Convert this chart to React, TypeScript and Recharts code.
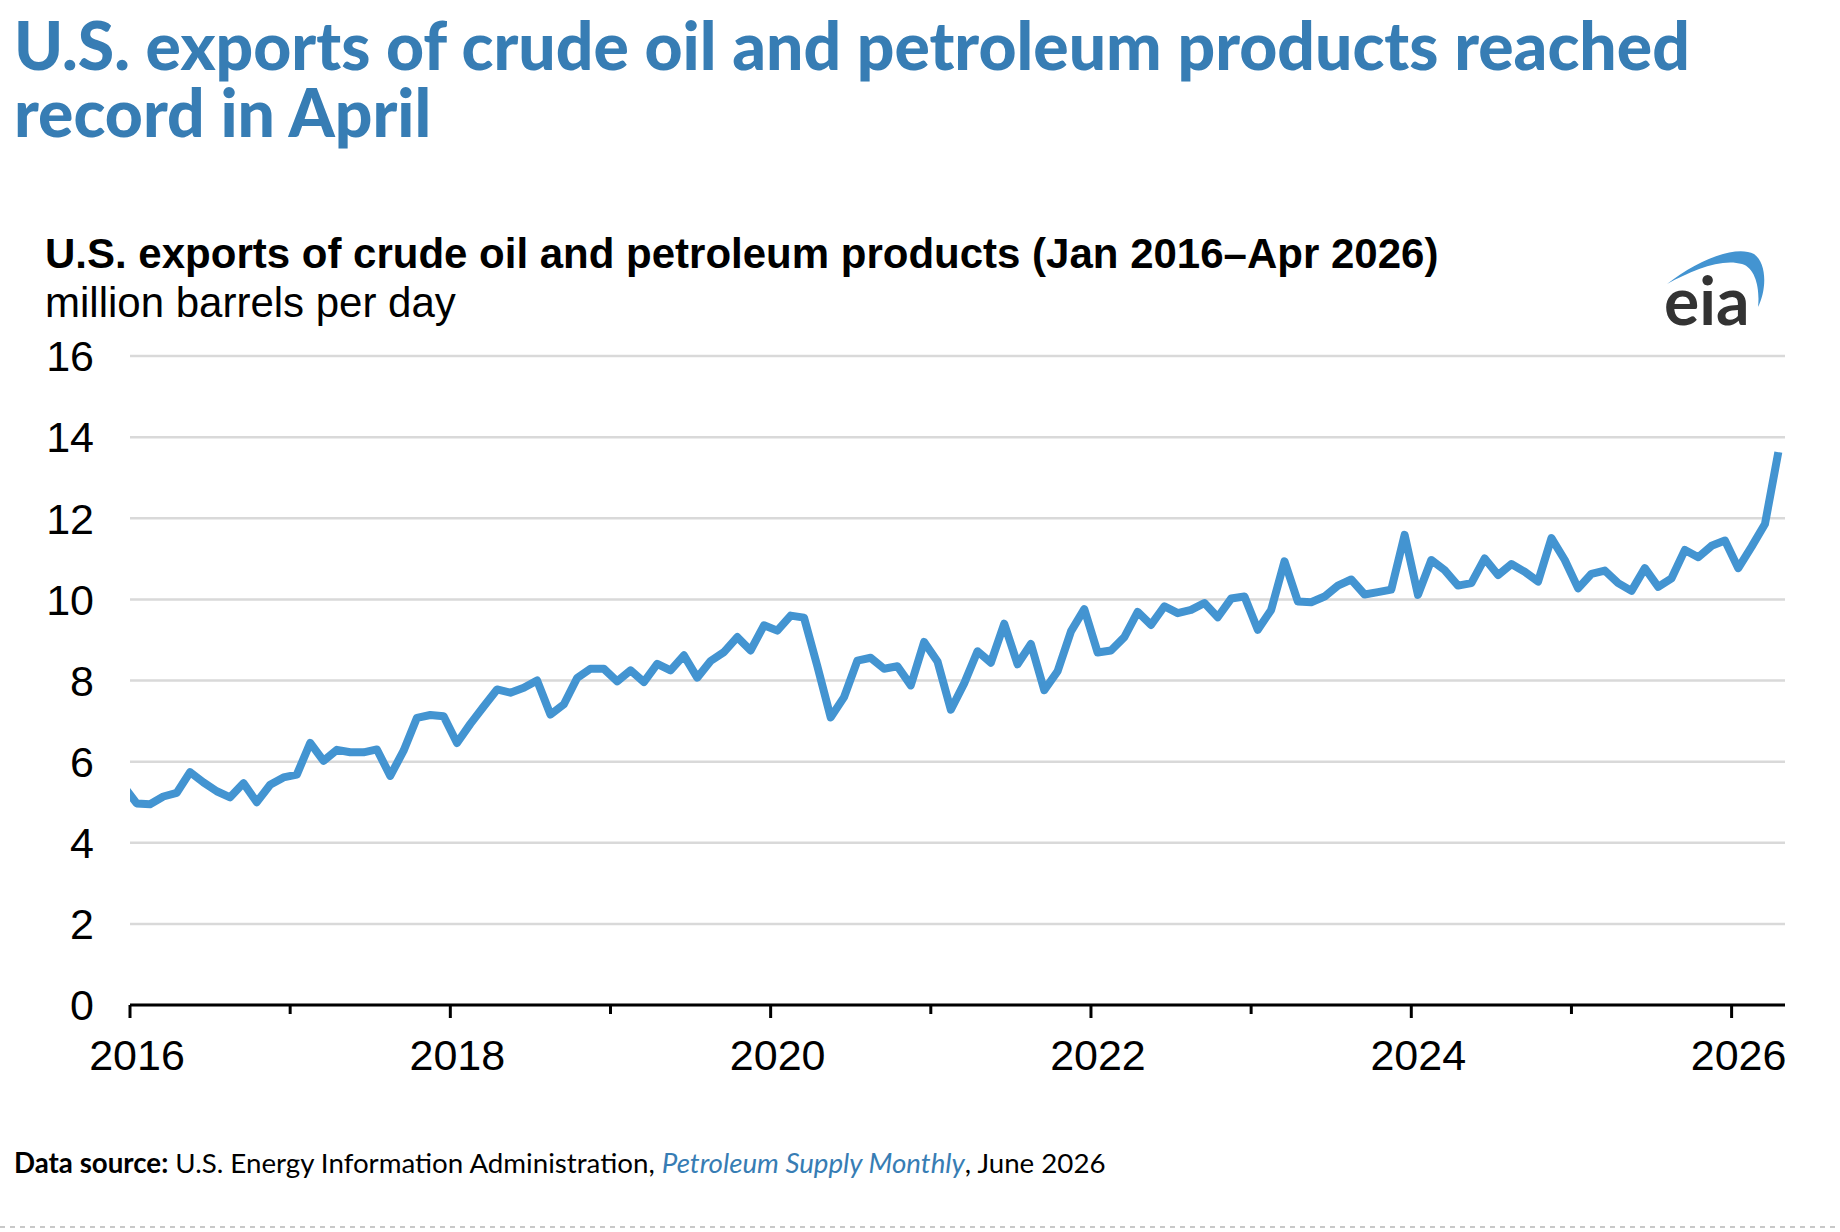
import { LineChart, Line, XAxis, YAxis, CartesianGrid } from 'recharts'

// million barrels per day, monthly; Dec 2015 is only the clipped lead-in at the left edge
const dec2015 = 5.4
const y2016 = [4.97, 4.95, 5.14, 5.23, 5.74, 5.49, 5.27, 5.12, 5.47, 5.0, 5.43, 5.61]
const y2017 = [5.68, 6.46, 6.02, 6.29, 6.23, 6.23, 6.3, 5.65, 6.27, 7.08, 7.15, 7.12]
const y2018 = [6.46, 6.93, 7.36, 7.78, 7.7, 7.82, 8.0, 7.16, 7.41, 8.06, 8.29, 8.29]
const y2019 = [7.98, 8.25, 7.96, 8.41, 8.25, 8.62, 8.07, 8.48, 8.7, 9.07, 8.74, 9.36]
const y2020 = [9.23, 9.6, 9.55, 8.35, 7.09, 7.59, 8.49, 8.56, 8.29, 8.35, 7.88, 8.95]
const y2021 = [8.47, 7.28, 7.93, 8.72, 8.44, 9.4, 8.4, 8.9, 7.76, 8.23, 9.21, 9.76]
const y2022 = [8.69, 8.74, 9.07, 9.69, 9.37, 9.83, 9.66, 9.74, 9.91, 9.56, 10.02, 10.07]
const y2023 = [9.25, 9.74, 10.94, 9.95, 9.93, 10.07, 10.34, 10.49, 10.12, 10.18, 10.24, 11.59]
const y2024 = [10.11, 10.97, 10.72, 10.34, 10.4, 11.01, 10.6, 10.87, 10.68, 10.44, 11.51, 10.97]
const y2025 = [10.27, 10.63, 10.71, 10.4, 10.21, 10.77, 10.31, 10.52, 11.22, 11.04, 11.32, 11.45]
const y2026 = [10.77, 11.3, 11.86, 13.63]

const years = [2016, 2017, 2018, 2019, 2020, 2021, 2022, 2023, 2024, 2025, 2026]
const yTicks = [0, 2, 4, 6, 8, 10, 12, 14, 16]

// t = months since Jan 2016; each month sits mid-month
const values = [dec2015, ...y2016, ...y2017, ...y2018, ...y2019, ...y2020, ...y2021, ...y2022, ...y2023, ...y2024, ...y2025, ...y2026]
const data = values.map((v, i) => ({ t: i - 0.5, v }))
const yearTicks = years.map((y) => (y - 2016) * 12)

const TITLE_BLUE = '#377db4'
const LINE_BLUE = '#4394d1'

function YearTick(props: any) {
  const { x, y, payload } = props
  const year = 2016 + Math.round(payload.value / 12)
  const labelled = year % 2 === 0
  return (
    <g>
      <line x1={x} x2={x} y1={y} y2={y + (labelled ? 13 : 9)} stroke="#000" strokeWidth={3} />
      {labelled && (
        <text x={x + 7} y={y + 65} textAnchor="middle" fontSize={43} fill="#000" fontFamily="'Liberation Sans', Arial, sans-serif">
          {year}
        </text>
      )}
    </g>
  )
}

export default function App() {
  return (
    <div style={{ position: 'absolute', left: 0, top: 0, width: 1840, height: 1232, background: '#fff' }}>
      <svg width={1840} height={1232} style={{ position: 'absolute', left: 0, top: 0 }}>
        <text fontFamily="Lato, sans-serif" fontWeight={900} fill={TITLE_BLUE} fontSize={66}>
          <tspan x={14} y={70}>U.S. exports of crude oil and petroleum products reached</tspan>
          <tspan x={14} y={137}>record in April</tspan>
        </text>
        <g fontFamily="'Liberation Sans', Arial, sans-serif" fill="#000">
          <text x={45} y={268} fontSize={42} fontWeight={700}>
            U.S. exports of crude oil and petroleum products (Jan 2016–Apr 2026)
          </text>
          <text x={45} y={317} fontSize={42}>million barrels per day</text>
        </g>
        {/* eia logo */}
        <path
          d="M1667 284 C1695 262 1735 244 1754 254 C1768 264 1766 292 1758 307 C1760 290 1756 268 1742 264 C1722 258 1692 270 1667 284 Z"
          fill={LINE_BLUE}
        />
        <text x={1664} y={325} fontFamily="Lato, sans-serif" fontWeight={700} fontSize={66} fill="#333">
          eia
        </text>
        <text x={14} y={1173} fontFamily="Lato, sans-serif" fontSize={27.7} fill="#000">
          <tspan fontWeight={700}>Data source:</tspan>
          <tspan> U.S. Energy Information Administration, </tspan>
          <tspan fontStyle="italic" fill={TITLE_BLUE}>Petroleum Supply Monthly</tspan>
          <tspan>, June 2026</tspan>
        </text>
        <line x1={0} x2={1840} y1={1227} y2={1227} stroke="#c8c8c8" strokeWidth={2} strokeDasharray="5 5" />
      </svg>
      <div style={{ position: 'absolute', left: 0, top: 0 }}>
        <LineChart width={1840} height={1100} data={data} margin={{ top: 356, right: 55, bottom: 35, left: 30 }}>
          <CartesianGrid vertical={false} stroke="#d9d9d9" strokeWidth={2.5} />
          <XAxis
            type="number"
            dataKey="t"
            domain={[0, 124]}
            ticks={yearTicks}
            interval={0}
            allowDataOverflow
            height={60}
            tickSize={0}
            tickMargin={0}
            tick={YearTick}
            axisLine={{ stroke: '#000', strokeWidth: 3 }}
            tickLine={false}
          />
          <YAxis
            domain={[0, 16]}
            ticks={yTicks}
            interval={0}
            width={100}
            axisLine={false}
            tickLine={false}
            tickSize={0}
            tickMargin={36}
            tick={{ fontSize: 43, fill: '#000', fontFamily: "'Liberation Sans', Arial, sans-serif" }}
          />
          <Line
            type="linear"
            dataKey="v"
            stroke={LINE_BLUE}
            strokeWidth={8}
            strokeLinejoin="round"
            dot={false}
            isAnimationActive={false}
          />
        </LineChart>
      </div>
    </div>
  )
}
